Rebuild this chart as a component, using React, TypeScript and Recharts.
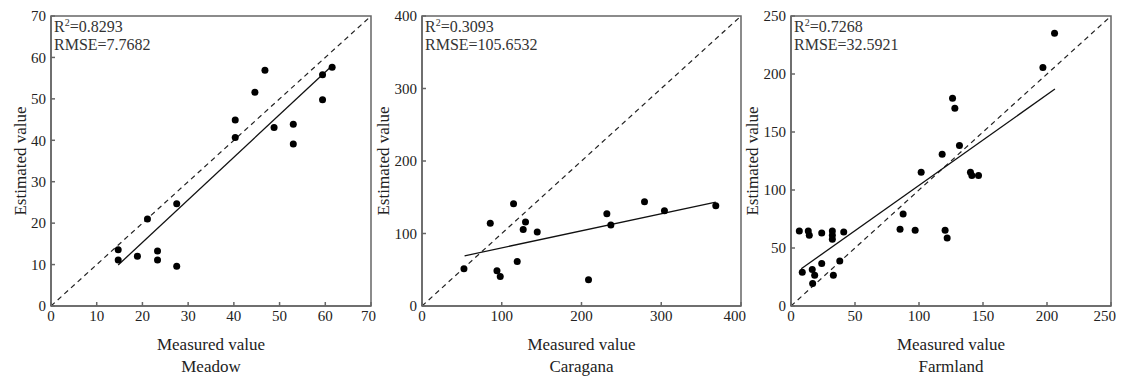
import React from "react";
import { ScatterChart, Scatter, XAxis, YAxis, ReferenceLine, ReferenceArea } from "recharts";

// Meadow
const meadowX = [14.7, 14.7, 18.9, 21.1, 23.3, 23.3, 27.5, 27.5, 40.3, 40.3, 44.6, 46.8, 48.8, 53.0, 53.0, 59.4, 59.4, 61.5];
const meadowY = [13.6, 11.1, 12.0, 21.0, 13.3, 11.1, 24.7, 9.6, 44.9, 40.7, 51.6, 56.9, 43.1, 43.9, 39.1, 55.8, 49.8, 57.6];
const meadowFitX = [14.7, 61.3];
const meadowFitY = [9.9, 57.8];
const meadowTicks = [0, 10, 20, 30, 40, 50, 60, 70];

// Caragana
const caraganaX = [52.6, 85.6, 94.0, 98.1, 114.8, 119.4, 126.9, 129.8, 144.5, 208.8, 231.8, 236.8, 279.0, 304.0, 368.4];
const caraganaY = [51.3, 114.0, 48.5, 40.8, 141.1, 61.4, 105.4, 115.9, 102.2, 36.2, 127.4, 111.8, 143.9, 131.5, 138.4];
const caraganaFitX = [53.4, 368.4];
const caraganaFitY = [69.2, 143.4];
const caraganaTicks = [0, 100, 200, 300, 400];

// Farmland
const farmlandX = [6.5, 8.8, 13.5, 14.3, 16.6, 16.9, 18.5, 24.0, 24.0, 32.3, 32.3, 32.3, 33.1, 38.1, 41.2, 85.2, 87.6, 97.0, 101.7, 118.1, 120.4, 122.0, 126.2, 128.0, 131.6, 140.2, 141.3, 146.5, 196.8, 205.9];
const farmlandY = [64.7, 29.2, 64.7, 61.0, 31.5, 19.5, 26.6, 63.0, 36.7, 64.7, 61.0, 57.6, 26.6, 38.7, 63.8, 66.2, 79.3, 65.3, 115.4, 130.8, 65.3, 58.7, 179.0, 170.4, 138.3, 115.4, 112.5, 112.5, 205.6, 235.1];
const farmlandFitX = [8.0, 206.2];
const farmlandFitY = [32.1, 187.0];
const farmlandTicks = [0, 50, 100, 150, 200, 250];

const FONT = "'Liberation Serif', 'Times New Roman', serif";
const AXIS = "#666";

type PanelProps = {
  left: number;
  width: number;
  yWidth: number;
  yLabelDx: number;
  xs: number[];
  ys: number[];
  fitX: number[];
  fitY: number[];
  ticks: number[];
  r2: string;
  rmse: string;
  name: string;
};

function Panel(p: PanelProps) {
  const max = p.ticks[p.ticks.length - 1];
  const points = p.xs.map((x, i) => ({ x, y: p.ys[i] }));

  const yLabel = (props: any) => {
    const vb = props.viewBox;
    const cx = vb.x + p.yLabelDx;
    const cy = vb.y + vb.height / 2;
    const ax = vb.x + vb.width + 3;
    return (
      <g fontFamily={FONT}>
        <text x={cx} y={cy} transform={`rotate(-90 ${cx} ${cy})`} textAnchor="middle" dominantBaseline="central" fontSize={17} fill="#222">
          Estimated value
        </text>
        <text x={ax} y={vb.y + 16} fontSize={16} fill="#333">
          <tspan>R</tspan>
          <tspan dy={-6} fontSize={10}>2</tspan>
          <tspan dy={6}>={p.r2}</tspan>
        </text>
        <text x={ax} y={vb.y + 34} fontSize={16} fill="#333">
          RMSE={p.rmse}
        </text>
      </g>
    );
  };

  const xLabel = (props: any) => {
    const vb = props.viewBox;
    const cx = vb.x + vb.width / 2;
    return (
      <g fontFamily={FONT} fontSize={17} fill="#222">
        <text x={cx} y={vb.y + 44} textAnchor="middle">Measured value</text>
        <text x={cx} y={vb.y + 66} textAnchor="middle">{p.name}</text>
      </g>
    );
  };

  const tickStyle = { fill: "#222", fontSize: 15, fontFamily: FONT };

  return (
    <div style={{ position: "absolute", left: p.left, top: 0 }}>
      <ScatterChart width={p.width} height={378} margin={{ top: 16, right: 5, left: 0, bottom: 42 }}>
        <XAxis
          type="number"
          dataKey="x"
          domain={[0, max]}
          ticks={p.ticks}
          allowDataOverflow
          height={30}
          tickSize={-4}
          tickMargin={8}
          tick={tickStyle}
          stroke={AXIS}
          strokeWidth={1.5}
          label={xLabel}
        />
        <YAxis
          type="number"
          dataKey="y"
          domain={[0, max]}
          ticks={p.ticks}
          allowDataOverflow
          width={p.yWidth}
          tickSize={-4}
          tickMargin={9}
          tick={tickStyle}
          stroke={AXIS}
          strokeWidth={1.5}
          label={yLabel}
        />
        <ReferenceArea x1={0} x2={max} y1={0} y2={max} fill="none" stroke={AXIS} strokeWidth={1.5} />
        <ReferenceLine
          segment={[{ x: 0, y: 0 }, { x: max, y: max }]}
          stroke="#222"
          strokeWidth={1.2}
          strokeDasharray="5 4"
        />
        <ReferenceLine
          segment={[{ x: p.fitX[0], y: p.fitY[0] }, { x: p.fitX[1], y: p.fitY[1] }]}
          stroke="#111"
          strokeWidth={1.3}
        />
        <Scatter
          data={points}
          isAnimationActive={false}
          shape={(s: any) => <circle cx={s.cx} cy={s.cy} r={3.5} fill="#000" />}
        />
      </ScatterChart>
    </div>
  );
}

export default function App() {
  return (
    <div style={{ position: "absolute", left: 0, top: 0, width: 1126, height: 378, background: "#fff" }}>
      <Panel left={0} width={376} yWidth={51} yLabelDx={20} xs={meadowX} ys={meadowY} fitX={meadowFitX} fitY={meadowFitY} ticks={meadowTicks} r2="0.8293" rmse="7.7682" name="Meadow" />
      <Panel left={370} width={376} yWidth={52} yLabelDx={13} xs={caraganaX} ys={caraganaY} fitX={caraganaFitX} fitY={caraganaFitY} ticks={caraganaTicks} r2="0.3093" rmse="105.6532" name="Caragana" />
      <Panel left={740} width={376} yWidth={51} yLabelDx={12} xs={farmlandX} ys={farmlandY} fitX={farmlandFitX} fitY={farmlandFitY} ticks={farmlandTicks} r2="0.7268" rmse="32.5921" name="Farmland" />
    </div>
  );
}
